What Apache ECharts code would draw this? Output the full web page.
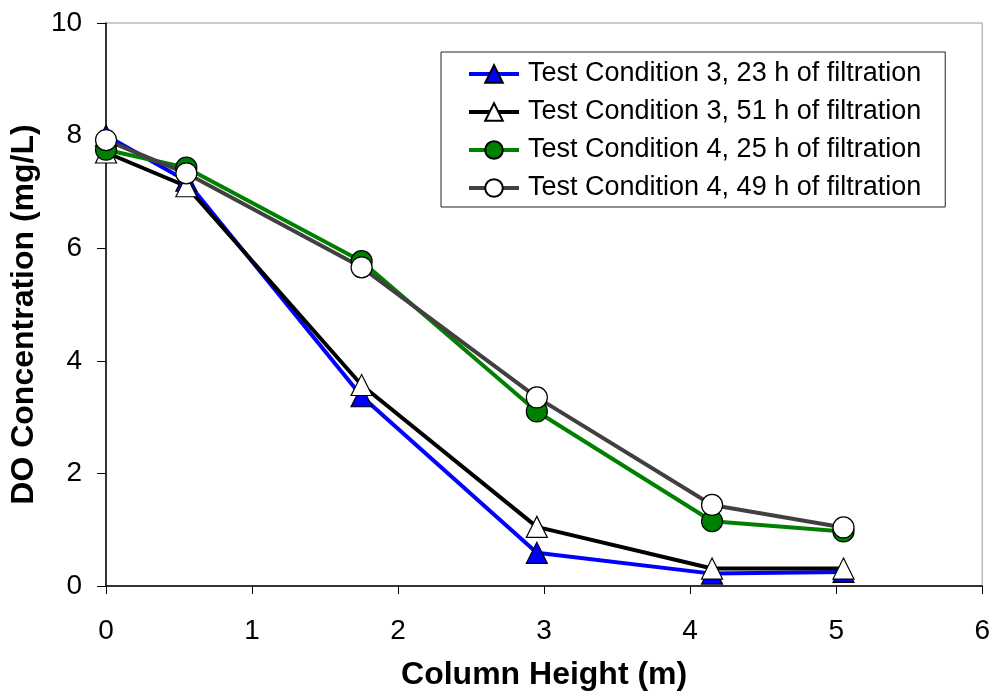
<!DOCTYPE html>
<html>
<head>
<meta charset="utf-8">
<title>DO Concentration vs Column Height</title>
<script src="https://cdn.jsdelivr.net/npm/echarts@6/dist/echarts.min.js"></script>
<style>
  html, body { margin: 0; padding: 0; background: #fff; }
  #chart { width: 993px; height: 696px; }
</style>
</head>
<body>
<div id="chart"></div>
<script>
// Column height of each sampling port (m)
const heights = [0, 0.55, 1.75, 2.95, 4.15, 5.05];

// Dissolved oxygen (mg/L) at each port
const tc3_23h = [8.0, 7.2, 3.37, 0.59, 0.22, 0.25];
const tc3_51h = [7.7, 7.1, 3.57, 1.05, 0.31, 0.31];
const tc4_25h = [7.75, 7.43, 5.77, 3.1, 1.15, 0.97];
const tc4_49h = [7.92, 7.33, 5.66, 3.35, 1.44, 1.04];

const seriesNames = [
  'Test Condition 3, 23 h of filtration',
  'Test Condition 3, 51 h of filtration',
  'Test Condition 4, 25 h of filtration',
  'Test Condition 4, 49 h of filtration'
];

const xTicks = [0, 1, 2, 3, 4, 5, 6];
const yTicks = [0, 2, 4, 6, 8, 10];

const FONT = '"Liberation Sans", Arial, sans-serif';

function pairs(values) {
  return heights.map((h, i) => [h, values[i]]);
}

function makeSeries(name, values, lineColor, symbol, fill, size) {
  return {
    name: name,
    type: 'line',
    data: pairs(values),
    symbol: symbol,
    symbolSize: size,
    showAllSymbol: true,
    lineStyle: { color: lineColor, width: 4 },
    itemStyle: { color: fill, borderColor: '#000', borderWidth: 1.2 },
    emphasis: { disabled: true },
    animation: false
  };
}

const chart = echarts.init(document.getElementById('chart'), null, { renderer: 'canvas' });

chart.setOption({
  backgroundColor: '#fff',
  animation: false,
  grid: {
    left: 103, right: 10, top: 23, bottom: 109,
    show: true,
    borderColor: '#9a9a9a',
    borderWidth: 1,
    backgroundColor: 'transparent'
  },
  legend: {
    orient: 'vertical',
    left: 441,
    top: 52,
    padding: [7, 24, 4, 26],
    itemGap: 8,
    itemWidth: 50,
    itemHeight: 22,
    borderColor: '#222',
    borderWidth: 1,
    backgroundColor: '#fff',
    data: seriesNames,
    lineStyle: { width: 4 },
    textStyle: {
      fontFamily: FONT,
      fontSize: 27,
      color: '#000',
      lineHeight: 30,
      padding: [0, 0, 0, 4]
    }
  },
  xAxis: {
    type: 'value',
    min: xTicks[0],
    max: xTicks[xTicks.length - 1],
    interval: 1,
    name: 'Column Height (m)',
    nameLocation: 'middle',
    nameGap: 73,
    nameTextStyle: { fontFamily: FONT, fontSize: 32, fontWeight: 'bold', color: '#000' },
    axisLine: { show: true, onZero: false, lineStyle: { color: '#000', width: 1.5 } },
    axisTick: { show: true, inside: false, length: 8, lineStyle: { color: '#000', width: 1 } },
    axisLabel: { fontFamily: FONT, fontSize: 28, color: '#000', margin: 31 },
    splitLine: { show: false }
  },
  yAxis: {
    type: 'value',
    min: yTicks[0],
    max: yTicks[yTicks.length - 1],
    interval: 2,
    name: 'DO Concentration (mg/L)',
    nameLocation: 'middle',
    nameGap: 56,
    nameTextStyle: {
      fontFamily: FONT, fontSize: 32, fontWeight: 'bold', color: '#000',
      padding: [0, 20, 0, 0]
    },
    axisLine: { show: true, onZero: false, lineStyle: { color: '#000', width: 1.5 } },
    axisTick: { show: true, inside: false, length: 9, lineStyle: { color: '#000', width: 1 } },
    axisLabel: { fontFamily: FONT, fontSize: 28, color: '#000', margin: 24 },
    splitLine: { show: false }
  },
  series: [
    makeSeries(seriesNames[0], tc3_23h, '#0000ff', 'triangle', '#0000ff', 21),
    makeSeries(seriesNames[1], tc3_51h, '#000000', 'triangle', '#ffffff', 21),
    makeSeries(seriesNames[2], tc4_25h, '#008000', 'circle', '#008000', 21),
    makeSeries(seriesNames[3], tc4_49h, '#404040', 'circle', '#ffffff', 21)
  ]
});
</script>
</body>
</html>
